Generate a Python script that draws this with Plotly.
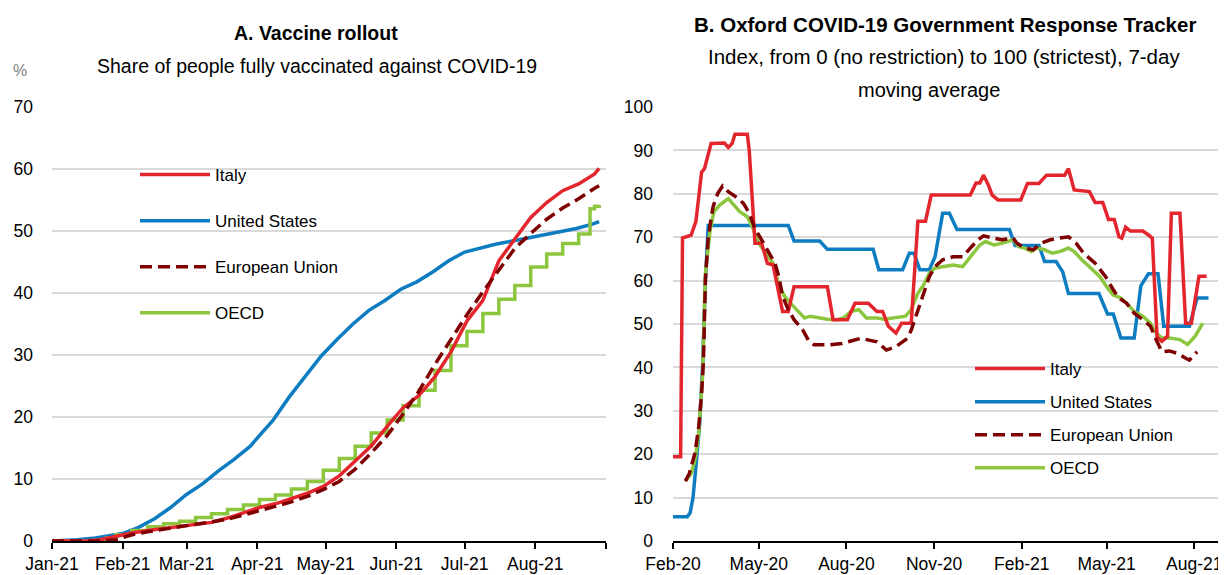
import pandas as pd
import plotly.graph_objects as go

# ---------------- Panel A: vaccine rollout (% fully vaccinated) ----------------
a_italy_dates = ["2021-01-01", "2021-01-15", "2021-01-22", "2021-01-29", "2021-02-05", "2021-02-12",
                 "2021-02-19", "2021-02-26", "2021-03-05", "2021-03-12", "2021-03-19", "2021-03-26",
                 "2021-04-02", "2021-04-09", "2021-04-16", "2021-04-23", "2021-04-30", "2021-05-07",
                 "2021-05-14", "2021-05-21", "2021-05-28", "2021-06-04", "2021-06-11", "2021-06-18",
                 "2021-06-25", "2021-07-02", "2021-07-09", "2021-07-16", "2021-07-23", "2021-07-30",
                 "2021-08-06", "2021-08-13", "2021-08-20", "2021-08-27", "2021-08-29"]
a_italy = [0, 0, 0.2, 0.8, 1.3, 1.7, 2.0, 2.3, 2.6, 3.0, 3.7, 4.6, 5.4, 6.0, 6.8, 7.7, 8.8, 10.5,
           12.9, 15.3, 18.5, 21.5, 23.5, 26.5, 30.5, 35.5, 38.8, 45.2, 48.7, 52.2, 54.6, 56.5, 57.6,
           59.2, 60.1]

a_us_dates = ["2021-01-01", "2021-01-12", "2021-01-20", "2021-01-27", "2021-02-01", "2021-02-08",
              "2021-02-15", "2021-02-22", "2021-03-01", "2021-03-08", "2021-03-15", "2021-03-22",
              "2021-03-29", "2021-04-01", "2021-04-08", "2021-04-15", "2021-04-22", "2021-04-29",
              "2021-05-06", "2021-05-13", "2021-05-20", "2021-05-27", "2021-06-03", "2021-06-10",
              "2021-06-17", "2021-06-24", "2021-07-01", "2021-07-08", "2021-07-15", "2021-07-22",
              "2021-07-29", "2021-08-05", "2021-08-12", "2021-08-19", "2021-08-26", "2021-08-29"]
a_us = [0, 0.2, 0.5, 0.9, 1.2, 2.2, 3.6, 5.4, 7.5, 9.2, 11.3, 13.2, 15.3, 16.6, 19.5, 23.2, 26.5,
        29.8, 32.5, 35.0, 37.2, 38.8, 40.6, 41.8, 43.4, 45.2, 46.6, 47.3, 47.9, 48.4, 48.9, 49.5,
        50.0, 50.4, 51.1, 51.5]

a_eu_dates = ["2021-01-01", "2021-01-22", "2021-01-29", "2021-02-05", "2021-02-12", "2021-02-19",
              "2021-02-26", "2021-03-05", "2021-03-12", "2021-03-19", "2021-03-26", "2021-04-02",
              "2021-04-09", "2021-04-16", "2021-04-23", "2021-04-30", "2021-05-07", "2021-05-14",
              "2021-05-21", "2021-05-28", "2021-06-04", "2021-06-11", "2021-06-18", "2021-06-25",
              "2021-07-02", "2021-07-09", "2021-07-16", "2021-07-23", "2021-07-30", "2021-08-06",
              "2021-08-13", "2021-08-20", "2021-08-27", "2021-08-29"]
a_eu = [0, 0, 0.2, 1.0, 1.5, 1.9, 2.3, 2.6, 3.0, 3.5, 4.2, 4.9, 5.6, 6.3, 7.2, 8.3, 9.6, 11.6,
        14.2, 17.0, 20.5, 24.2, 28.5, 32.5, 36.5, 40.2, 43.7, 47.2, 49.6, 51.9, 53.7, 55.2, 56.9,
        57.3]

# OECD series moves in weekly steps (value holds until the next date)
a_oecd_dates = ["2021-01-01", "2021-01-25", "2021-01-29", "2021-02-05", "2021-02-12", "2021-02-19",
                "2021-02-26", "2021-03-05", "2021-03-12", "2021-03-19", "2021-03-26", "2021-04-02",
                "2021-04-09", "2021-04-16", "2021-04-23", "2021-04-30", "2021-05-07", "2021-05-14",
                "2021-05-21", "2021-05-28", "2021-06-04", "2021-06-11", "2021-06-18", "2021-06-25",
                "2021-07-02", "2021-07-09", "2021-07-16", "2021-07-23", "2021-07-30", "2021-08-06",
                "2021-08-13", "2021-08-20", "2021-08-25", "2021-08-27", "2021-08-29"]
a_oecd = [0, 0.5, 1.0, 1.7, 2.3, 2.8, 3.2, 3.8, 4.4, 5.1, 5.8, 6.7, 7.4, 8.4, 9.6, 11.4, 13.3, 15.3,
          17.4, 19.5, 21.8, 24.3, 27.5, 31.5, 33.8, 36.7, 39.0, 41.2, 44.2, 46.3, 48.0, 49.5, 53.6,
          54.0, 54.2]

a_range = ["2021-01-01", "2021-09-01"]
a_ticks = ["2021-01-01", "2021-02-01", "2021-03-01", "2021-04-01", "2021-05-01", "2021-06-01",
           "2021-07-01", "2021-08-01", "2021-09-01"]
a_ticklabels = ["Jan-21", "Feb-21", "Mar-21", "Apr-21", "May-21", "Jun-21", "Jul-21", "Aug-21", ""]

# ---------------- Panel B: Oxford stringency index (days since 1 Feb 2020) ----------------
b_start = "2020-02-01"
b_italy_days = [0, 8, 10, 19, 24, 30, 33, 40, 54, 58, 62, 65, 78, 80, 84, 86, 93, 99, 105, 115,
                121, 127, 162, 168, 183, 191, 205, 214, 220, 226, 234, 240, 250, 257, 265, 271, 312,
                318, 322, 326, 331, 335, 341, 365, 372, 384, 392, 411, 415, 421, 437, 443, 451, 457,
                463, 468, 471, 475, 480, 493, 499, 503, 508, 513, 519, 523, 532, 538, 544, 552, 560]
b_italy = [19.4, 19.4, 69.8, 70.5, 73.6, 85, 85.8, 91.6, 91.7, 90.7, 91.6, 93.7, 93.7, 90, 76,
           68.6, 68.6, 64, 63.6, 52.9, 52.9, 58.6, 58.6, 51, 51, 54.8, 54.8, 52.9, 52.9, 49.5, 47.9,
           50.2, 50.2, 73.7, 73.7, 79.7, 79.7, 82.5, 82.5, 84.3, 82, 79.7, 78.6, 78.6, 82.4, 82.4,
           84.3, 84.3, 85.8, 80.9, 80.5, 78, 78, 74.1, 74.1, 70.1, 69.8, 72.3, 71.4, 71.4, 70.5, 69.8,
           47, 46, 47.2, 75.5, 75.5, 50.2, 50.2, 61, 61]

b_us_days = [0, 15, 18, 21, 24, 28, 31, 34, 37, 121, 127, 154, 162, 210, 216, 241, 248, 253, 259,
             269, 275, 283, 290, 298, 353, 359, 384, 390, 402, 409, 415, 447, 456, 462, 470, 484,
             491, 499, 509, 515, 542, 550, 562]
b_us = [5.6, 5.6, 6.5, 10, 17, 27, 40, 60, 72.7, 72.7, 69.1, 69.1, 67.2, 67.2, 62.5, 62.5, 66.3,
        66.3, 62.5, 62.5, 65.5, 75.5, 75.5, 71.8, 71.8, 68.1, 68.1, 64.4, 64.4, 62, 57, 57, 52.3,
        52.3, 46.8, 46.8, 58.8, 61.6, 61.6, 49.5, 49.5, 56, 56]

b_eu_days = [13, 17, 23, 27, 30, 32, 34, 37, 42, 47, 52, 58, 66, 74, 80, 86, 95, 101, 107, 111,
             115, 121, 127, 136, 142, 148, 164, 177, 197, 214, 224, 234, 246, 250, 257, 263, 269,
             275, 283, 294, 304, 312, 320, 326, 335, 345, 357, 361, 369, 378, 386, 396, 406, 415,
             423, 431, 443, 454, 462, 468, 476, 484, 493, 501, 507, 513, 521, 530, 538, 542, 550]
b_eu = [13.8, 15.5, 20.2, 26.3, 34, 41.7, 60.2, 70.1, 77, 80.1, 81.8, 80.5, 79.3, 77.8, 75.5, 72,
        68.6, 66.3, 64, 61, 56.4, 53.3, 51, 48.7, 46.3, 45.2, 45.2, 45.5, 46.7, 45.9, 44, 44.8,
        46.7, 48.6, 53.3, 57.1, 60.9, 63.2, 64.8, 65.5, 65.5, 67.5, 69.4, 70.3, 69.8, 69.4, 69.8,
        68.6, 67.5, 67.1, 68.6, 69.4, 69.8, 70.1, 68.6, 66.3, 64, 60.9, 57.9, 56, 54.8, 52.5, 51,
        49.5, 46.4, 43.6, 43.8, 43.2, 42.1, 41.7, 43.6]

b_oecd_days = [13, 19, 23, 27, 31, 34, 39, 43, 49, 58, 64, 70, 78, 84, 90, 97, 105, 111, 117, 125,
               132, 138, 144, 152, 162, 172, 179, 187, 195, 203, 214, 222, 234, 244, 250, 257, 263,
               269, 275, 283, 294, 304, 312, 322, 328, 337, 345, 357, 363, 369, 376, 382, 390, 398,
               406, 415, 421, 429, 437, 448, 456, 462, 470, 476, 484, 493, 501, 507, 513, 521, 532,
               540, 548, 556]
b_oecd = [13.8, 15.5, 18.6, 24.8, 37.8, 61.7, 71.7, 75.9, 77.4, 78.9, 77.4, 75.9, 74.7, 72, 68.6,
          66.3, 64, 59, 56.4, 54.4, 52.9, 51.4, 51.8, 51.4, 51.1, 51, 51.4, 52.9, 53.3, 51.4, 51.4,
          51.1, 51.4, 51.8, 53.3, 57.1, 59, 61.7, 62.9, 63.2, 63.6, 63.2, 65.5, 68.2, 69, 68.2, 68.6,
          69.4, 67.8, 67.5, 66.7, 67.5, 67.1, 66.3, 66.7, 67.5, 66.7, 64.8, 63.2, 60.9, 58.3, 56.7,
          56, 54.8, 52.9, 51.8, 50.2, 47.9, 46.8, 46.8, 46.4, 45.3, 47.2, 50.2]

b_range_days = [0, 573]
b_tick_days = [0, 90, 182, 274, 366, 455, 547]
b_ticklabels = ["Feb-20", "May-20", "Aug-20", "Nov-20", "Feb-21", "May-21", "Aug-21"]

series_names = ["Italy", "United States", "European Union", "OECD"]
colors = ["#E3262D", "#0E7CC1", "#7F0000", "#8CC63F"]

# ---------------------------------------------------------------------------
# The page body adds an 8px offset; the figure is sized to fill the rest of the window.
OFF = 8
W, H = 1226 - OFF, 575 - OFF
FONT = "Liberation Sans, Arial, sans-serif"


def px_x(p):
    return (p - OFF) / W


def px_y(p):
    return 1 - (p - OFF) / H


def bdates(days):
    return pd.Timestamp(b_start) + pd.to_timedelta(days, unit="D")


fig = go.Figure()

a_data = [(a_italy_dates, a_italy), (a_us_dates, a_us), (a_eu_dates, a_eu), (a_oecd_dates, a_oecd)]
b_data = [(b_italy_days, b_italy), (b_us_days, b_us), (b_eu_days, b_eu), (b_oecd_days, b_oecd)]
order = [1, 3, 0, 2]  # drawing order (legend order kept via legendrank)

for i in order:
    d, v = a_data[i]
    fig.add_trace(go.Scatter(
        x=pd.to_datetime(d), y=v, mode="lines", name=series_names[i],
        line=dict(color=colors[i], width=3.5, dash="12px,6px" if i == 2 else "solid",
                  shape="hv" if i == 3 else "linear"),
        xaxis="x", yaxis="y", legend="legend", legendgroup="a" + str(i), legendrank=i + 1,
        hoverinfo="skip"))

for i in order:
    d, v = b_data[i]
    fig.add_trace(go.Scatter(
        x=bdates(d), y=v, mode="lines", name=series_names[i],
        line=dict(color=colors[i], width=3.5, dash="12px,6px" if i == 2 else "solid"),
        xaxis="x2", yaxis="y2", legend="legend2", legendgroup="b" + str(i), legendrank=i + 1,
        hoverinfo="skip"))

y_dom = [px_y(541), px_y(107)]
tickfont = dict(family=FONT, size=17.5, color="#000000")

xcommon = dict(type="date", tickmode="array", ticks="outside", ticklen=6, tickwidth=1.5,
               tickcolor="#000000", showline=True, linecolor="#000000", linewidth=1.5,
               showgrid=False, tickfont=tickfont, zeroline=False, fixedrange=True,
               automargin=False, ticklabelstandoff=0, ticklabeloverflow="allow")
ycommon = dict(tickmode="array", showgrid=True, gridcolor="#D9D9D9", gridwidth=2, zeroline=False,
               showline=False, ticks="", tickfont=tickfont, fixedrange=True, automargin=False)

fig.update_layout(
    template="none",
    width=W, height=H,
    margin=dict(l=0, r=0, t=0, b=0, autoexpand=False),
    paper_bgcolor="white", plot_bgcolor="white",
    font=dict(family=FONT, size=17, color="#000000"),
    xaxis=dict(domain=[px_x(52), px_x(606)], range=pd.to_datetime(a_range),
               tickvals=pd.to_datetime(a_ticks), ticktext=a_ticklabels, anchor="y", **xcommon),
    yaxis=dict(domain=y_dom, range=[0, 70], tickvals=list(range(0, 71, 10)),
               ticklabelstandoff=18, anchor="x", **ycommon),
    xaxis2=dict(domain=[px_x(673), px_x(1219)],
                range=[bdates(b_range_days[0]), bdates(b_range_days[1])],
                tickvals=bdates(b_tick_days), ticktext=b_ticklabels, anchor="y2", **xcommon),
    yaxis2=dict(domain=y_dom, range=[0, 100], tickvals=list(range(0, 101, 10)),
                ticklabelstandoff=19, anchor="x2", **ycommon),
    legend=dict(x=px_x(135), y=px_y(157), xanchor="left", yanchor="top",
                bgcolor="rgba(0,0,0,0)", font=dict(family=FONT, size=17, color="#000000"),
                tracegroupgap=21, itemwidth=70, traceorder="grouped"),
    legend2=dict(x=px_x(970), y=px_y(351), xanchor="left", yanchor="top",
                 bgcolor="rgba(0,0,0,0)", font=dict(family=FONT, size=17, color="#000000"),
                 tracegroupgap=8, itemwidth=70, traceorder="grouped"),
    showlegend=True,
)

annotations = [
    dict(text="<b>A. Vaccine rollout</b>", x=px_x(316), y=px_y(33), size=19.5),
    dict(text="Share of people fully vaccinated against COVID-19", x=px_x(317), y=px_y(66), size=19.5),
    dict(text="<b>B. Oxford COVID-19 Government Response Tracker</b>", x=px_x(945), y=px_y(24), size=20.5),
    dict(text="Index, from 0 (no restriction) to 100 (strictest), 7-day", x=px_x(944), y=px_y(57), size=20.5),
    dict(text="moving average", x=px_x(929), y=px_y(90), size=20),
]
for a in annotations:
    fig.add_annotation(text=a["text"], x=a["x"], y=a["y"], xref="paper", yref="paper",
                       xanchor="center", yanchor="middle", showarrow=False,
                       font=dict(family=FONT, size=a["size"], color="#000000"))
fig.add_annotation(text="%", x=px_x(20), y=px_y(70), xref="paper", yref="paper",
                   xanchor="center", yanchor="middle", showarrow=False,
                   font=dict(family=FONT, size=16, color="#7F7F7F"))

fig.write_html("out.html")
